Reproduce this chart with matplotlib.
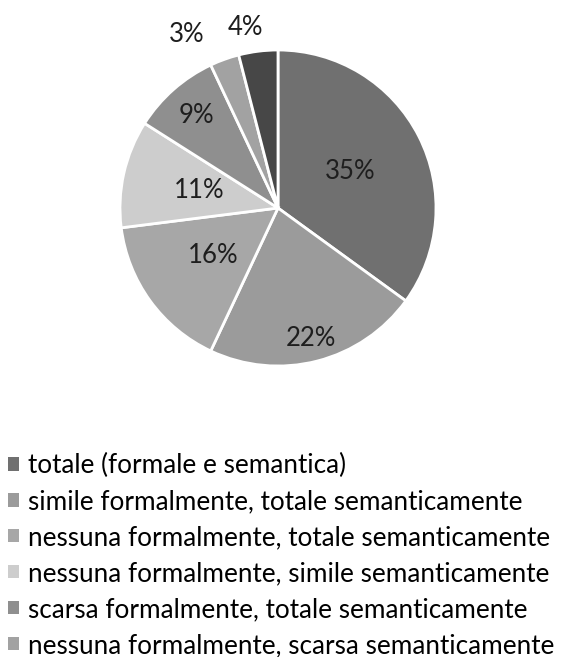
import numpy as np
import matplotlib.pyplot as plt

plt.rcParams['font.family'] = ['Lato', 'DejaVu Sans']

# data
categories = [
    'totale (formale e semantica)',
    'simile formalmente, totale semanticamente',
    'nessuna formalmente, totale semanticamente',
    'nessuna formalmente, simile semanticamente',
    'scarsa formalmente, totale semanticamente',
    'nessuna formalmente, scarsa semanticamente',
    'altro',
]
shares = [35, 22, 16, 11, 9, 3, 4]
colors = ['#707070', '#9b9b9b', '#a7a7a7', '#cdcdcd', '#8f8f8f', '#a2a2a2', '#474747']

# label placement (radius as fraction of pie radius, angular shift in degrees)
label_r = [0.51, 0.85, 0.51, 0.51, 0.78, 1.24, 1.16]
label_dtheta = [0, 0, 0, 0, 0, -8, -3]

fig = plt.figure(figsize=(5.61, 6.57), dpi=100)
ax = fig.add_axes([120 / 561, 1 - 366 / 657, 316 / 561, 316 / 657])

wedges, _ = ax.pie(shares, colors=colors, startangle=90, counterclock=False,
                   radius=1, wedgeprops=dict(edgecolor='white', linewidth=2))
ax.set_xlim(-1, 1)
ax.set_ylim(-1, 1)
ax.set_aspect('equal')

for w, v, r, dt in zip(wedges, shares, label_r, label_dtheta):
    theta = np.deg2rad((w.theta1 + w.theta2) / 2 - dt)
    ax.text(r * np.cos(theta), r * np.sin(theta), f'{v}%',
            ha='center', va='center', fontsize=18.5, color='#1e1e1e')

leg = fig.legend(wedges[:6], categories[:6], loc='upper left',
                 bbox_to_anchor=(8 / 561, 1 - 453 / 657), frameon=False,
                 fontsize=18.8, handlelength=0.42, handleheight=0.42,
                 handletextpad=0.35, labelspacing=0.42, borderaxespad=0,
                 borderpad=0)
for h in leg.legend_handles:
    h.set_edgecolor('none')

plt.savefig('out.png', dpi=100)
plt.close()
